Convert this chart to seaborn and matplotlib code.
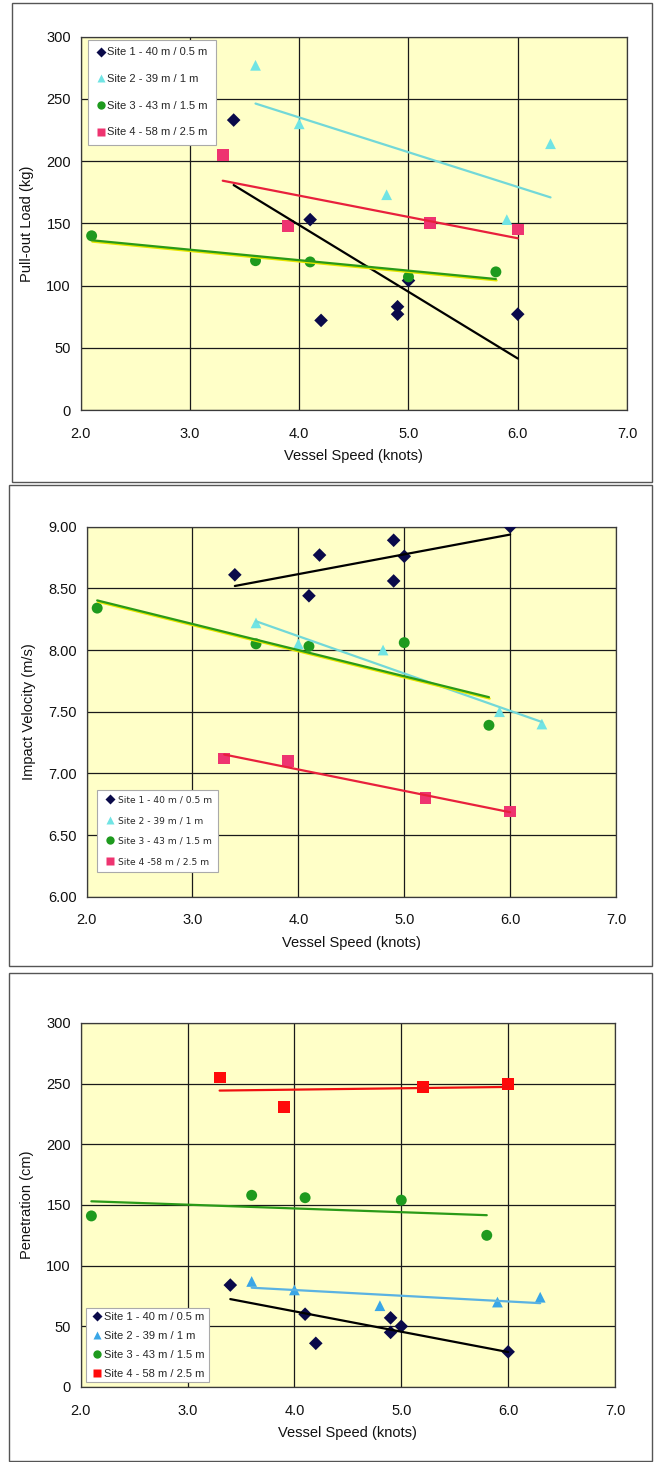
import matplotlib
matplotlib.use("Agg")
import matplotlib.pyplot as plt
import matplotlib.patheffects as pe
from matplotlib.patches import Rectangle
from matplotlib.lines import Line2D
import seaborn as sns

# ---- data -------------------------------------------------------------
speed_site1 = [3.4, 4.1, 4.2, 4.9, 4.9, 5.0, 6.0]
speed_site2 = [3.6, 4.0, 4.8, 5.9, 6.3]
speed_site3 = [2.1, 3.6, 4.1, 5.0, 5.8]
speed_site4 = [3.3, 3.9, 5.2, 6.0]

pullout_site1 = [233, 153, 72, 83, 77, 104, 77]
pullout_site2 = [277, 230, 173, 153, 214]
pullout_site3 = [140, 120, 119, 107, 111]
pullout_site4 = [205, 148, 150, 145]

impact_site1 = [8.61, 8.44, 8.77, 8.89, 8.56, 8.76, 9.00]
impact_site2 = [8.22, 8.05, 8.00, 7.50, 7.40]
impact_site3 = [8.34, 8.05, 8.03, 8.06, 7.39]
impact_site4 = [7.12, 7.10, 6.80, 6.69]

penetration_site1 = [84, 60, 36, 57, 45, 50, 29]
penetration_site2 = [87, 80, 67, 70, 74]
penetration_site3 = [141, 158, 156, 154, 125]
penetration_site4 = [255, 231, 247, 250]

labels_a = ["Site 1 - 40 m / 0.5 m", "Site 2 - 39 m / 1 m",
            "Site 3 - 43 m / 1.5 m", "Site 4 - 58 m / 2.5 m"]
labels_b = ["Site 1 - 40 m / 0.5 m", "Site 2 - 39 m / 1 m",
            "Site 3 - 43 m / 1.5 m", "Site 4 -58 m / 2.5 m"]

x_ticks = [2.0, 3.0, 4.0, 5.0, 6.0, 7.0]
pullout_ticks = [0, 50, 100, 150, 200, 250, 300]
impact_ticks = [6.00, 6.50, 7.00, 7.50, 8.00, 8.50, 9.00]
penetration_ticks = [0, 50, 100, 150, 200, 250, 300]

# ---- style ------------------------------------------------------------
sns.set_theme(style="white")
plt.rcParams["font.family"] = ["Liberation Sans", "DejaVu Sans"]
plt.rcParams["axes.unicode_minus"] = False

W, H = 655, 1462
fig = plt.figure(figsize=(W / 100, H / 100), dpi=100)
fig.patch.set_facecolor("white")

PLOT_BG = "#FFFFC8"
GRID = "#1a1a1a"

yellow_edge = [pe.SimpleLineShadow(offset=(0.5, -1.0), shadow_color="#E6E600", alpha=1.0),
               pe.Normal()]


def px_axes(left, top, right, bottom):
    return fig.add_axes([left / W, 1 - bottom / H, (right - left) / W, (bottom - top) / H])


def panel_frame(left, top, right, bottom):
    fig.add_artist(Rectangle((left / W, 1 - bottom / H), (right - left) / W, (bottom - top) / H,
                             transform=fig.transFigure, fill=False, edgecolor="#555555",
                             linewidth=1.0))


def draw_panel(ax, sites, yticks, yfmt, ylabel, ylim):
    handles = []
    for s in sites:
        sns.scatterplot(x=s["x"], y=s["y"], marker=s["marker"], s=s["size"], color=s["color"],
                        edgecolor="none", linewidth=0, ax=ax, zorder=3, legend=False)
        line_kws = dict(linewidth=1.6, zorder=4)
        if s.get("shadow"):
            line_kws["path_effects"] = yellow_edge
        sns.regplot(x=s["x"], y=s["y"], scatter=False, ci=None, truncate=True,
                    color=s["line"], line_kws=line_kws, ax=ax)
        handles.append(Line2D([], [], linestyle="none", marker=s["marker"],
                              markersize=s["lsize"], markerfacecolor=s["color"],
                              markeredgecolor="none"))
    ax.set_facecolor(PLOT_BG)
    ax.set_xlim(2.0, 7.0)
    ax.set_ylim(*ylim)
    ax.set_xticks(x_ticks)
    ax.set_xticklabels([f"{t:.1f}" for t in x_ticks])
    ax.set_yticks(yticks)
    ax.set_yticklabels([yfmt.format(t) for t in yticks])
    ax.grid(True, color=GRID, linewidth=0.9, zorder=1)
    ax.set_axisbelow(True)
    for sp in ax.spines.values():
        sp.set_color("#3a3a3a")
        sp.set_linewidth(0.9)
    ax.tick_params(axis="both", direction="out", length=4, width=0.8, color="#333333",
                   labelsize=10.5, labelcolor="#111111", pad=3)
    ax.tick_params(axis="x", pad=8)
    ax.set_xlabel("Vessel Speed (knots)", fontsize=10.5, color="#111111", labelpad=6)
    ax.set_ylabel(ylabel, fontsize=10.5, color="#111111", labelpad=9)
    return handles


def site_specs(ys, c2, l2, c4, l4, shadow):
    return [
        dict(x=speed_site1, y=ys[0], marker="D", size=48, lsize=5, color="#0A0A4A", line="#000000"),
        dict(x=speed_site2, y=ys[1], marker="^", size=60, lsize=6, color=c2, line=l2),
        dict(x=speed_site3, y=ys[2], marker="o", size=62, lsize=6, color="#1E9A1E",
             line="#2A9A18", shadow=shadow),
        dict(x=speed_site4, y=ys[3], marker="s", size=72, lsize=6, color=c4, line=l4),
    ]


# ---- panel frames -----------------------------------------------------
panel_frame(12, 3, 652, 482)
panel_frame(9, 485, 652, 966)
panel_frame(9, 973, 652, 1461)

# ---- pull-out load ----------------------------------------------------
ax1 = px_axes(80.7, 36.7, 627, 410)
h1 = draw_panel(ax1,
                site_specs([pullout_site1, pullout_site2, pullout_site3, pullout_site4],
                           "#70E4E4", "#72D8D8", "#EE3470", "#E8203C", True),
                pullout_ticks, "{:.0f}", "Pull-out Load (kg)", (0, 300))
leg1 = ax1.legend(h1, labels_a, loc="upper left", bbox_to_anchor=(0.013, 0.992),
                  borderaxespad=0, frameon=True, fancybox=False, framealpha=1,
                  edgecolor="#AAAAAA", facecolor="white", labelspacing=1.5,
                  handletextpad=0.05, handlelength=1.0, borderpad=0.7,
                  prop=dict(family=["Liberation Sans", "DejaVu Sans"], size=8.0))
leg1.get_frame().set_linewidth(0.8)

# ---- impact velocity --------------------------------------------------
ax2 = px_axes(86.6, 526.7, 616, 896.7)
h2 = draw_panel(ax2,
                site_specs([impact_site1, impact_site2, impact_site3, impact_site4],
                           "#70E4E4", "#72D8D8", "#EE3470", "#E8203C", True),
                impact_ticks, "{:.2f}", "Impact Velocity (m/s)", (6.0, 9.0))
leg2 = ax2.legend(h2, labels_b, loc="upper left", bbox_to_anchor=(0.0196, 0.288),
                  borderaxespad=0, frameon=True, fancybox=False, framealpha=1,
                  edgecolor="#AAAAAA", facecolor="white", labelspacing=1.25,
                  handletextpad=0.1, handlelength=1.6, borderpad=0.6,
                  prop=dict(family=["DejaVu Sans"], size=6.6))
leg2.get_frame().set_linewidth(0.8)

# ---- penetration ------------------------------------------------------
ax3 = px_axes(80.7, 1023, 615, 1387)
h3 = draw_panel(ax3,
                site_specs([penetration_site1, penetration_site2, penetration_site3,
                            penetration_site4],
                           "#3AA6E6", "#5AB2E2", "#FF0A0A", "#F01010", False),
                penetration_ticks, "{:.0f}", "Penetration (cm)", (0, 300))
leg3 = ax3.legend(h3, labels_a, loc="upper left", bbox_to_anchor=(0.0099, 0.217),
                  borderaxespad=0, frameon=True, fancybox=False, framealpha=1,
                  edgecolor="#AAAAAA", facecolor="white", labelspacing=0.8,
                  handletextpad=0.1, handlelength=1.2, borderpad=0.35,
                  prop=dict(family=["Liberation Sans", "DejaVu Sans"], size=8.0))
leg3.get_frame().set_linewidth(0.8)

fig.savefig("out.png", dpi=100, facecolor="white")
